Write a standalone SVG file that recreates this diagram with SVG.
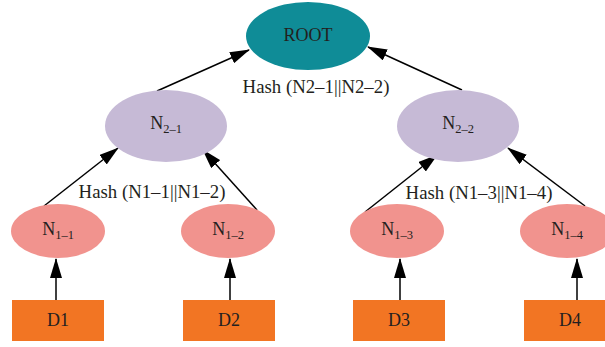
<svg xmlns="http://www.w3.org/2000/svg" width="605" height="347" viewBox="0 0 605 347">
  <style>
    text { font-family: "Liberation Serif", "Times New Roman", serif; fill: #231f20; }
    .lbl { font-size: 18px; text-anchor: middle; }
    .hash { font-size: 18.8px; text-anchor: middle; }
    .sub { font-size: 12.5px; }
    .edge { stroke: #000; stroke-width: 1.5; fill: none; marker-end: url(#arrow); }
    .root { fill: #0f8c97; }
    .lvl2 { fill: #c6bad6; }
    .lvl1 { fill: #f1938e; }
    .data { fill: #f27523; }
  </style>
  <defs>
    <marker id="arrow" markerUnits="userSpaceOnUse" markerWidth="20" markerHeight="12" refX="19" refY="6" orient="auto">
      <path d="M0,0 L20,6 L0,12 Z" fill="#000"/>
    </marker>
  </defs>

  <!-- connectors -->
  <g id="connectors">
    <line class="edge" x1="56" y1="300" x2="56" y2="259"/>
    <line class="edge" x1="230" y1="300" x2="230" y2="259"/>
    <line class="edge" x1="400" y1="300" x2="400" y2="259"/>
    <line class="edge" x1="577" y1="300" x2="577" y2="259"/>
    <line class="edge" x1="44" y1="206" x2="118" y2="148"/>
    <line class="edge" x1="257" y1="210" x2="203" y2="150"/>
    <line class="edge" x1="365" y1="212" x2="437" y2="155"/>
    <line class="edge" x1="585" y1="206" x2="508" y2="148"/>
    <line class="edge" x1="157" y1="91" x2="249" y2="50"/>
    <line class="edge" x1="462" y1="90" x2="368" y2="47"/>
  </g>

  <!-- hash labels -->
  <text class="hash" x="316" y="93">Hash (N2–1||N2–2)</text>
  <text class="hash" x="152" y="198">Hash (N1–1||N1–2)</text>
  <text class="hash" x="479" y="199">Hash (N1–3||N1–4)</text>

  <g id="root">
    <ellipse class="root" cx="308" cy="36" rx="62" ry="34"/>
    <text class="lbl" x="308" y="41">ROOT</text>
  </g>

  <g id="n2-1">
    <ellipse class="lvl2" cx="166" cy="126" rx="61" ry="36"/>
    <text class="lbl" x="166" y="129">N<tspan class="sub" dy="4">2–1</tspan></text>
  </g>
  <g id="n2-2">
    <ellipse class="lvl2" cx="458" cy="126" rx="61" ry="36"/>
    <text class="lbl" x="458" y="129">N<tspan class="sub" dy="4">2–2</tspan></text>
  </g>

  <g id="n1-1">
    <ellipse class="lvl1" cx="58" cy="231" rx="47" ry="27"/>
    <text class="lbl" x="58" y="235">N<tspan class="sub" dy="4">1–1</tspan></text>
  </g>
  <g id="n1-2">
    <ellipse class="lvl1" cx="228" cy="231" rx="47" ry="27"/>
    <text class="lbl" x="228" y="235">N<tspan class="sub" dy="4">1–2</tspan></text>
  </g>
  <g id="n1-3">
    <ellipse class="lvl1" cx="397" cy="231" rx="47" ry="27"/>
    <text class="lbl" x="397" y="235">N<tspan class="sub" dy="4">1–3</tspan></text>
  </g>
  <g id="n1-4">
    <ellipse class="lvl1" cx="567" cy="231" rx="47" ry="27"/>
    <text class="lbl" x="567" y="235">N<tspan class="sub" dy="4">1–4</tspan></text>
  </g>

  <g id="d1">
    <rect class="data" x="12" y="300" width="92" height="41"/>
    <text class="lbl" x="58" y="326">D1</text>
  </g>
  <g id="d2">
    <rect class="data" x="183" y="300" width="92" height="41"/>
    <text class="lbl" x="229" y="326">D2</text>
  </g>
  <g id="d3">
    <rect class="data" x="353" y="300" width="92" height="41"/>
    <text class="lbl" x="399" y="326">D3</text>
  </g>
  <g id="d4">
    <rect class="data" x="524" y="300" width="92" height="41"/>
    <text class="lbl" x="570" y="326">D4</text>
  </g>
</svg>
